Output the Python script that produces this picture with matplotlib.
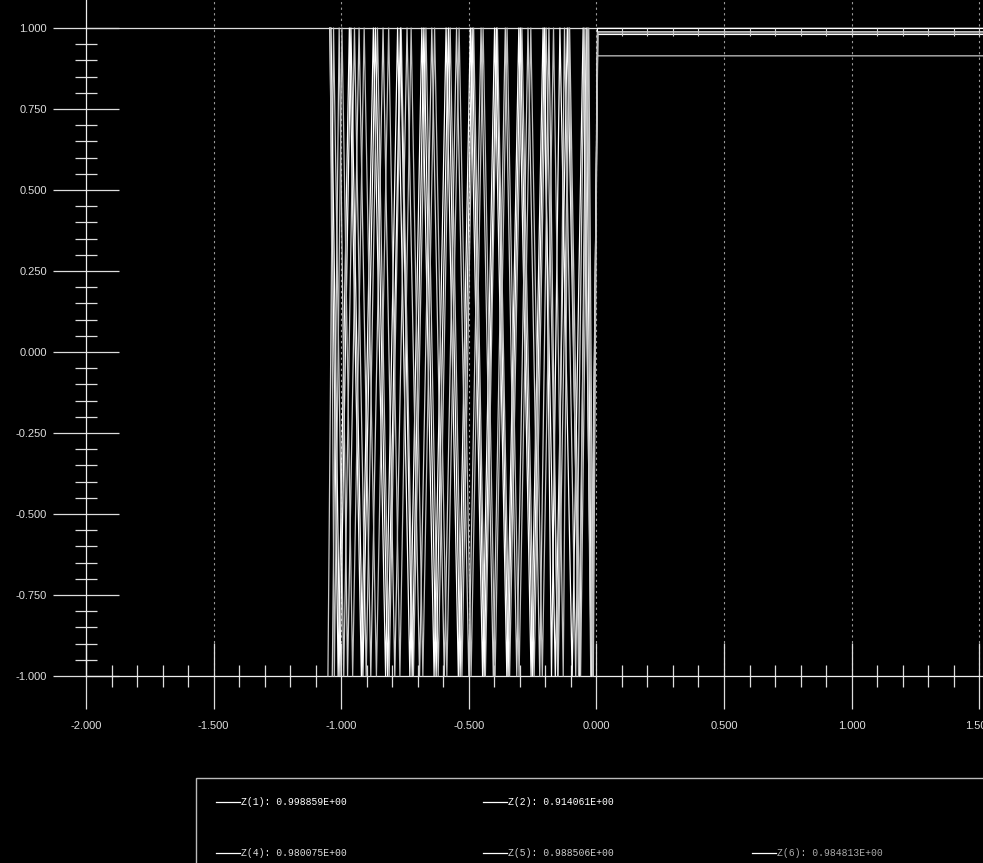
import matplotlib
matplotlib.use("Agg")
import matplotlib.pyplot as plt
from matplotlib.patches import Rectangle
from matplotlib.ticker import FixedLocator, FormatStrFormatter

# ---------------- data ----------------
x_ticks = [-2.0, -1.5, -1.0, -0.5, 0.0, 0.5, 1.0, 1.5]
y_ticks = [-1.0, -0.75, -0.5, -0.25, 0.0, 0.25, 0.5, 0.75, 1.0]
x_minor = [-1.9, -1.8, -1.7, -1.6, -1.4, -1.3, -1.2, -1.1, -0.9, -0.8, -0.7, -0.6,
           -0.4, -0.3, -0.2, -0.1, 0.1, 0.2, 0.3, 0.4, 0.6, 0.7, 0.8, 0.9, 1.1, 1.2, 1.3, 1.4]
y_minor = [-0.95, -0.9, -0.85, -0.8, -0.7, -0.65, -0.6, -0.55, -0.45, -0.4, -0.35, -0.3,
           -0.2, -0.15, -0.1, -0.05, 0.05, 0.1, 0.15, 0.2, 0.3, 0.35, 0.4, 0.45,
           0.55, 0.6, 0.65, 0.7, 0.8, 0.85, 0.9, 0.95]

# flat part after x = 0 (sampled every 0.1)
x_flat = [0.1, 0.2, 0.3, 0.4, 0.5, 0.6, 0.7, 0.8, 0.9, 1.0, 1.1, 1.2, 1.3, 1.4, 1.5, 1.6]

z1_x = [-1.045, -1.012, -0.968, -0.921, -0.874, -0.826, -0.779, -0.731, -0.684, -0.636, -0.589, -0.541,
        -0.494, -0.446, -0.399, -0.351, -0.304, -0.256, -0.209, -0.161, -0.114, -0.066, -0.040, -0.018, 0.004]
z1_y = [1, -1, 1, -1, 1, -1, 1, -1, 1, -1, 1, -1, 1, -1, 1, -1, 1, -1, 1, -1, 1, -1, 1, -1, 0.998859]

z2_x = [-1.052, -1.030, -0.990, -0.948, -0.902, -0.858, -0.812, -0.765, -0.717, -0.668, -0.620, -0.573, -0.527,
        -0.481, -0.435, -0.388, -0.340, -0.292, -0.244, -0.197, -0.150, -0.105, -0.062, -0.030, -0.012, 0.003]
z2_y = [-1, 1, -1, 1, -1, 1, -1, 1, -1, 1, -1, 1, -1, 1, -1, 1, -1, 1, -1, 1, -1, 1, -1, 1, -1, 0.914061]

z4_x = [-1.040, -1.005, -0.962, -0.915, -0.866, -0.818, -0.768, -0.722, -0.676, -0.628, -0.580, -0.534,
        -0.487, -0.440, -0.392, -0.346, -0.298, -0.250, -0.203, -0.176, -0.143, -0.095, -0.052, -0.020, 0.005]
z4_y = [1, -1, 1, -1, 1, -1, 1, -1, 1, -1, 1, -1, 1, -1, 1, -1, 1, -1, 1, -1, 1, -1, 1, -1, 0.980075]

z5_x = [-1.035, -1.008, -0.975, -0.930, -0.884, -0.836, -0.790, -0.742, -0.693, -0.645, -0.596, -0.548, -0.500,
        -0.452, -0.404, -0.357, -0.312, -0.268, -0.222, -0.186, -0.152, -0.125, -0.081, -0.048, -0.022, 0.006]
z5_y = [-1, 1, -1, 1, -1, 1, -1, 1, -1, 1, -1, 1, -1, 1, -1, 1, -1, 1, -1, 1, -1, 1, -1, 1, -1, 0.988506]

z6_x = [-1.043, -1.027, -0.997, -0.955, -0.910, -0.862, -0.814, -0.770, -0.726, -0.680, -0.634, -0.586, -0.538,
        -0.491, -0.444, -0.397, -0.350, -0.303, -0.257, -0.212, -0.168, -0.130, -0.108, -0.070, -0.035, -0.015, 0.005]
z6_y = [1, -1, 1, -1, 1, -1, 1, -1, 1, -1, 1, -1, 1, -1, 1, -1, 1, -1, 1, -1, 1, -1, 1, -1, 1, -1, 0.984813]

labels = ["Z(1): 0.998859E+00", "Z(2): 0.914061E+00",
          "Z(4): 0.980075E+00", "Z(5): 0.988506E+00", "Z(6): 0.984813E+00"]

# ---------------- figure ----------------
W, H, DPI = 983, 863, 100
fig = plt.figure(figsize=(W / DPI, H / DPI), dpi=DPI)
fig.patch.set_facecolor("black")
ax = fig.add_axes([0, 0, 1, 1])
ax.set_facecolor("black")

# data window: x=-2 at px 86, 255.2 px/unit ; y=1 at px 28, 324 px/unit
px_x, px_y = 255.2, 324.0
xmin = -2 - 86 / px_x
xmax = xmin + W / px_x
ymax = 1 + 28 / px_y
ymin = ymax - H / px_y
ax.set_xlim(xmin, xmax)
ax.set_ylim(ymin, ymax)

# dotted vertical grid lines at major x ticks
for xt in x_ticks[1:]:
    ax.plot([xt, xt], [-1, ymax], color="#9a9a9a", lw=0.8, ls=(0, (2, 3)), zorder=1)

# top line at y = 1
ax.plot([-2, xmax], [1, 1], color="#dddddd", lw=0.9, zorder=2)

series = [(z1_x, z1_y, "#ffffff"), (z2_x, z2_y, "#c8c8c8"), (z4_x, z4_y, "#ffffff"),
          (z5_x, z5_y, "#d0d0d0"), (z6_x, z6_y, "#bdbdbd")]
for i, (xs, ys, c) in enumerate(series):
    lvl = ys[-1]
    X = list(xs) + x_flat
    Y = list(ys) + [lvl] * len(x_flat)
    if i == 3:
        n0 = len(xs)
        ax.plot(X, Y, color=c, lw=0.9, zorder=3, marker="|", markersize=6,
                markeredgewidth=0.8, markevery=list(range(n0, len(X))))
    else:
        ax.plot(X, Y, color=c, lw=0.9, zorder=3)

# axes spines placed like the original
for s in ["top", "right"]:
    ax.spines[s].set_visible(False)
ax.spines["left"].set_position(("data", -2))
ax.spines["bottom"].set_position(("data", -1))
ax.spines["left"].set_bounds(-1, ymax)
ax.spines["bottom"].set_bounds(-2, xmax)
for s in ["left", "bottom"]:
    ax.spines[s].set_color("#eeeeee")
    ax.spines[s].set_linewidth(0.9)

ax.xaxis.set_major_locator(FixedLocator(x_ticks))
ax.yaxis.set_major_locator(FixedLocator(y_ticks))
ax.xaxis.set_minor_locator(FixedLocator(x_minor))
ax.yaxis.set_minor_locator(FixedLocator(y_minor))
ax.xaxis.set_major_formatter(FormatStrFormatter("%.3f"))
ax.yaxis.set_major_formatter(FormatStrFormatter("%.3f"))

pt = 72 / DPI
ax.tick_params(which="major", direction="inout", length=66 * pt, width=0.9, color="#dddddd",
               labelcolor="#dddddd", labelsize=8)
ax.tick_params(which="minor", direction="inout", length=22 * pt, width=0.9, color="#dddddd")
ax.tick_params(axis="x", which="major", pad=12 * pt)
ax.tick_params(axis="y", which="major", pad=6 * pt)
for lab in ax.get_xticklabels() + ax.get_yticklabels():
    lab.set_family(["Liberation Sans", "DejaVu Sans"])

# ---------------- legend box ----------------
def fx(px):
    return px / W

def fy(py):
    return 1 - py / H

fig.patches.append(Rectangle((fx(196), fy(870)), fx(800), 92 / H, transform=fig.transFigure,
                             facecolor="black", edgecolor="#bbbbbb", lw=1.0, zorder=5))
entries = [(216, 802, labels[0], "#ffffff"), (483, 802, labels[1], "#ffffff"),
           (216, 853, labels[2], "#dddddd"), (483, 853, labels[3], "#cccccc"),
           (752, 853, labels[4], "#aaaaaa")]
for (lx, ly, txt, tc) in entries:
    fig.add_artist(plt.Line2D([fx(lx), fx(lx + 24)], [fy(ly), fy(ly)], transform=fig.transFigure,
                              color="#ffffff", lw=0.9, zorder=6))
    fig.text(fx(lx + 25), fy(ly), txt, color=tc, fontsize=7.0, family=["Liberation Mono", "DejaVu Sans Mono"],
             va="center", ha="left", zorder=6)

fig.savefig("out.png", dpi=DPI, facecolor="black")
